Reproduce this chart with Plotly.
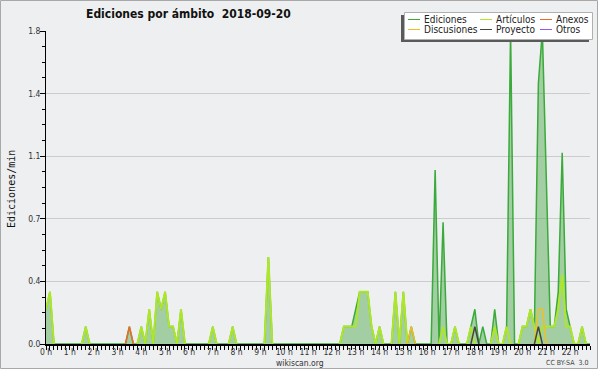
import plotly.graph_objects as go

# ---------------- data (10-minute bins, edits per minute) ----------------
# one row per hour, 6 bins (00,10,20,30,40,50 min) per row
ediciones = [
    0.2, 0.3, 0, 0, 0, 0,        # 0 h
    0, 0, 0, 0, 0.1, 0,          # 1 h
    0, 0, 0, 0, 0, 0,            # 2 h
    0, 0, 0, 0.1, 0, 0,          # 3 h
    0.1, 0, 0.2, 0, 0.3, 0.2,    # 4 h
    0.3, 0.1, 0.1, 0, 0.2, 0,    # 5 h
    0, 0, 0, 0, 0, 0,            # 6 h
    0.1, 0, 0, 0, 0, 0.1,        # 7 h
    0, 0, 0, 0, 0, 0,            # 8 h
    0, 0, 0.5, 0, 0, 0,          # 9 h
    0, 0, 0, 0, 0, 0,            # 10 h
    0, 0, 0, 0, 0, 0,            # 11 h
    0, 0, 0, 0.1, 0.1, 0.1,      # 12 h
    0.2, 0.3, 0.3, 0.3, 0.1, 0,  # 13 h
    0.1, 0, 0, 0, 0.3, 0,        # 14 h
    0.3, 0, 0.1, 0, 0, 0,        # 15 h
    0, 0, 1.0, 0, 0.7, 0,        # 16 h
    0, 0.1, 0, 0, 0, 0.1,        # 17 h
    0.2, 0, 0.1, 0, 0, 0.2,      # 18 h
    0, 0, 0.1, 1.8, 0, 0,        # 19 h
    0.1, 0.1, 0.2, 0.1, 1.5, 1.8,  # 20 h
    0.9, 0.1, 0.1, 0.3, 1.1, 0.2,  # 21 h
    0.1, 0, 0, 0.1, 0, 0,        # 22 h
]
articulos = [
    0.2, 0.3, 0, 0, 0, 0,
    0, 0, 0, 0, 0.1, 0,
    0, 0, 0, 0, 0, 0,
    0, 0, 0, 0, 0, 0,
    0.1, 0, 0.2, 0, 0.3, 0.2,
    0.3, 0.1, 0.1, 0, 0.2, 0,
    0, 0, 0, 0, 0, 0,
    0.1, 0, 0, 0, 0, 0.1,
    0, 0, 0, 0, 0, 0,
    0, 0, 0.5, 0, 0, 0,
    0, 0, 0, 0, 0, 0,
    0, 0, 0, 0, 0, 0,
    0, 0, 0, 0.1, 0.1, 0.1,
    0.1, 0.3, 0.3, 0.3, 0.1, 0,
    0.1, 0, 0, 0, 0.3, 0,
    0.3, 0, 0, 0, 0, 0,
    0, 0, 0, 0, 0.1, 0,
    0, 0.1, 0, 0, 0, 0.1,
    0, 0, 0, 0, 0, 0.1,
    0, 0, 0.1, 0, 0, 0,
    0.1, 0.1, 0.2, 0.1, 0, 0.1,
    0.1, 0.1, 0.1, 0.2, 0.4, 0.1,
    0.1, 0, 0, 0.1, 0, 0,
]
anexos = [0] * 21 + [0.1] + [0] * 116
discusiones = [0] * 92 + [0.1] + [0] * 31 + [0.2, 0.2] + [0] * 12
proyecto = [0] * 108 + [0.1] + [0] * 15 + [0.1] + [0] * 13
otros = [0] * 138

series_names = ["Ediciones", "Artículos", "Anexos", "Discusiones", "Proyecto", "Otros"]
series_values = [ediciones, articulos, anexos, discusiones, proyecto, otros]
series_colors = ["#3aaa3a", "#aee62a", "#ee6a2a", "#efbf22", "#444444", "#9955ee"]

hour_ticks = list(range(23))
hour_labels = [f"{h} h" for h in hour_ticks]
y_ticks = [0, 0.36, 0.72, 1.08, 1.44, 1.8]
y_labels = ["0.0", "0.4", "0.7", "1.1", "1.4", "1.8"]

# ---------------- figure ----------------
W, H = 600, 370
L, R, T, B = 46, 10, 31, 26
PW, PH = W - L - R, H - T - B
BG = "#eeeff0"
TICKFONT = "DejaVu Sans Condensed, DejaVu Sans, sans-serif"


def px(x):
    return (x - L) / PW


def py(y):
    return (H - B - y) / PH


n = len(ediciones)
x_hours = [i / 6 for i in range(n)]


def masked(vals):
    out = []
    for i, v in enumerate(vals):
        prev_v = vals[i - 1] if i > 0 else 0
        next_v = vals[i + 1] if i < len(vals) - 1 else 0
        out.append(None if (v == 0 and prev_v == 0 and next_v == 0) else v)
    return out


fig = go.Figure()
# total edits: filled area
fig.add_trace(go.Scatter(
    x=x_hours, y=ediciones, mode="lines", fill="tozeroy",
    fillcolor="rgba(60,160,60,0.42)",
    line=dict(color=series_colors[0], width=1.5),
    name=series_names[0], showlegend=False, hoverinfo="skip"))
for name, vals, col in zip(series_names[1:], series_values[1:], series_colors[1:]):
    fig.add_trace(go.Scatter(
        x=x_hours, y=masked(vals), mode="lines",
        line=dict(color=col, width=2 if name == "Artículos" else 1.5),
        name=name, showlegend=False, hoverinfo="skip", connectgaps=False))

shapes = []
annotations = []

# chart border
shapes.append(dict(type="rect", xref="paper", yref="paper", layer="below",
                   x0=px(0.5), x1=px(597.5), y0=py(368.5), y1=py(0.5),
                   line=dict(color="#a8a8a8", width=1), fillcolor=BG))

# legend box with shadow
shapes.append(dict(type="rect", xref="paper", yref="paper",
                   x0=px(401), x1=px(589), y0=py(42), y1=py(15),
                   line=dict(width=0), fillcolor="#5a5a5a"))
shapes.append(dict(type="rect", xref="paper", yref="paper",
                   x0=px(404.5), x1=px(592.5), y0=py(39.5), y1=py(12.5),
                   line=dict(color="#b0b0b0", width=1), fillcolor="white"))
col_x = [408, 480, 540]
row_y = [19.5, 29.5]
for k, (name, col) in enumerate(zip(series_names, series_colors)):
    cx = col_x[k % 3]
    ry = row_y[k // 3]
    shapes.append(dict(type="line", xref="paper", yref="paper",
                       x0=px(cx), x1=px(cx + 12), y0=py(ry), y1=py(ry),
                       line=dict(color=col, width=1)))
    annotations.append(dict(text=name, xref="paper", yref="paper",
                            x=px(cx + 14), y=py(ry), xanchor="left", yanchor="middle",
                            showarrow=False,
                            font=dict(family=TICKFONT, size=10, color="#222")))

# title
annotations.append(dict(text="<b>Ediciones por ámbito  2018-09-20</b>", xref="paper", yref="paper",
                        x=px(188), y=py(14), xanchor="center", yanchor="middle", showarrow=False,
                        font=dict(family="DejaVu Sans Condensed, DejaVu Sans, sans-serif", size=12, color="#111")))
# y title
annotations.append(dict(text="Ediciones/min", xref="paper", yref="paper", textangle=-90,
                        x=px(11), y=py(189), xanchor="center", yanchor="middle", showarrow=False,
                        font=dict(family="DejaVu Sans Mono, monospace", size=10, color="#111")))
# footer
annotations.append(dict(text="wikiscan.org", xref="paper", yref="paper",
                        x=px(300), y=py(362.5), xanchor="center", yanchor="middle", showarrow=False,
                        font=dict(family=TICKFONT, size=8.5, color="#333")))
annotations.append(dict(text="CC BY-SA  3.0", xref="paper", yref="paper",
                        x=px(590), y=py(362.5), xanchor="right", yanchor="middle", showarrow=False,
                        font=dict(family=TICKFONT, size=7, color="#444")))

fig.update_layout(
    width=W, height=H,
    margin=dict(l=L, r=R, t=T, b=B, pad=0),
    paper_bgcolor="white", plot_bgcolor="rgba(0,0,0,0)",
    showlegend=False,
    shapes=shapes, annotations=annotations,
    xaxis=dict(range=[0, (n - 1) / 6], tickmode="array", tickvals=hour_ticks, ticktext=hour_labels,
               ticks="outside", ticklen=4, tickcolor="black", tickwidth=1,
               showline=True, linecolor="black", linewidth=2, showgrid=False, zeroline=False,
               tickfont=dict(family=TICKFONT, size=8.5, color="#333"), ticklabelstandoff=-5,
               minor=dict(tickmode="linear", tick0=0, dtick=1 / 6, ticks="outside", ticklen=4,
                          tickcolor="black", tickwidth=1, showgrid=False),
               layer="above traces", fixedrange=True),
    yaxis=dict(range=[0, 1.8], tickmode="array", tickvals=y_ticks, ticktext=y_labels,
               ticks="outside", ticklen=5, tickcolor="black", tickwidth=1,
               showline=True, linecolor="black", linewidth=1,
               showgrid=True, gridcolor="#cccccc", gridwidth=1, zeroline=False,
               tickfont=dict(family=TICKFONT, size=8.5, color="#333"), ticklabelstandoff=-2,
               minor=dict(tickmode="linear", tick0=0, dtick=0.09, ticks="outside", ticklen=3,
                          tickcolor="black", tickwidth=1, showgrid=False),
               layer="above traces", fixedrange=True),
)

fig.write_html("out.html", config={"displayModeBar": False, "staticPlot": True},
               post_script="document.body.style.margin='0';document.body.style.padding='0';"
                           "document.documentElement.style.overflow='hidden';")
